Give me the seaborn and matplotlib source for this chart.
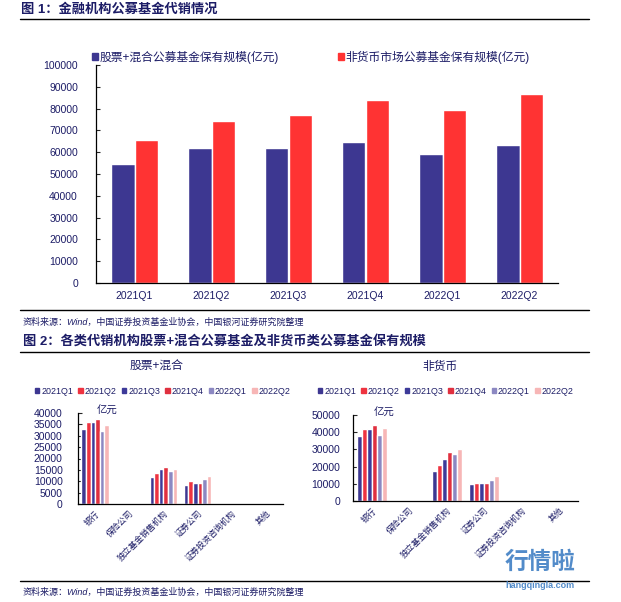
"""Fund distribution charts: holdings by quarter and by channel."""

import matplotlib
matplotlib.use('Agg')
import matplotlib.pyplot as plt
from matplotlib.patches import Patch
from matplotlib.ticker import FixedLocator, MultipleLocator
import numpy as np
import pandas as pd
import seaborn as sns

# ---- data (亿元) ----
quarters = ['2021Q1', '2021Q2', '2021Q3', '2021Q4', '2022Q1', '2022Q2']
series_top = ['股票+混合公募基金保有规模(亿元)', '非货币市场公募基金保有规模(亿元)']
equity_mixed = [54400, 61700, 61700, 64900, 59000, 63100]
non_money = [65800, 74500, 77200, 84000, 79500, 86800]

channels = ['银行', '保险公司', '独立基金销售机构', '证券公司', '证券投资咨询机构', '其他']
# 股票+混合, one list per quarter, values per channel
eq_2021q1 = [33100, 0, 12000, 8500, 0, 0]
eq_2021q2 = [36200, 0, 13800, 10300, 0, 0]
eq_2021q3 = [36200, 0, 15200, 9400, 0, 0]
eq_2021q4 = [37500, 0, 16400, 9400, 0, 0]
eq_2022q1 = [32200, 0, 14400, 11100, 0, 0]
eq_2022q2 = [34600, 0, 15500, 12500, 0, 0]
# 非货币
nm_2021q1 = [37700, 0, 17200, 9600, 0, 0]
nm_2021q2 = [41800, 0, 20700, 10700, 0, 0]
nm_2021q3 = [41800, 0, 24200, 10200, 0, 0]
nm_2021q4 = [44100, 0, 28300, 10200, 0, 0]
nm_2022q1 = [38300, 0, 27100, 12500, 0, 0]
nm_2022q2 = [42400, 0, 30100, 14300, 0, 0]

NAVY = '#1c1c66'
top_colors = ['#3d3791', '#ff3333']
q_colors = ['#3d3791', '#ee3340', '#3d3a99', '#e0303f', '#8c88c2', '#f7b6b6']

sns.set_style('white')
plt.rcParams['font.family'] = ['Liberation Sans', 'Noto Sans CJK SC', 'DejaVu Sans']
plt.rcParams['axes.unicode_minus'] = False

W, H = 621, 602
fig = plt.figure(figsize=(W / 100, H / 100), dpi=100)


def box(x0, y0, x1, y1):
    """Axes rectangle from pixel corners (top-left origin)."""
    return [x0 / W, 1 - y1 / H, (x1 - x0) / W, (y1 - y0) / H]


def fx(px):
    return px / W


def fy(py):
    return 1 - py / H


def style_axes(ax, ypad):
    for side in ['top', 'right']:
        ax.spines[side].set_visible(False)
    for side in ['left', 'bottom']:
        ax.spines[side].set_color('black')
        ax.spines[side].set_linewidth(0.9)
    n = len(ax.get_xticks())
    ax.xaxis.set_minor_locator(FixedLocator(np.arange(0.5, n - 0.5, 1.0)))
    ax.set_xlim(-0.5, n - 0.5)
    ax.tick_params(axis='x', which='major', length=0)
    ax.tick_params(axis='x', which='minor', length=3, width=0.8, direction='out')
    ax.tick_params(axis='y', length=3, width=0.8, direction='in', pad=ypad,
                   labelsize=7.5, labelcolor=NAVY, left=True)
    ax.set_xlabel('')
    ax.set_ylabel('')
    ax.grid(False)


# ---- figure 1 ----
fig.text(fx(21), fy(10), '图 1：金融机构公募基金代销情况', fontsize=9.5,
         fontweight='bold', color=NAVY, va='center')
fig.add_artist(plt.Line2D([fx(20), fx(589)], [fy(19), fy(19)], color='black', lw=1))

top_df = pd.DataFrame({
    'quarter': quarters * 2,
    'series': [series_top[0]] * 6 + [series_top[1]] * 6,
    'value': equity_mixed + non_money,
})
ax1 = fig.add_axes(box(96, 65, 558, 283))
sns.barplot(data=top_df, x='quarter', y='value', hue='series', palette=top_colors,
            width=0.6, gap=0, saturation=1, legend=False, ax=ax1)
ax1.set_ylim(0, 100000)
ax1.yaxis.set_major_locator(MultipleLocator(10000))
style_axes(ax1, ypad=13)
ax1.tick_params(axis='x', labelsize=7.5, labelcolor=NAVY, pad=6)

handles = [Patch(color=c, label=s) for c, s in zip(top_colors, series_top)]
fig.legend(handles=handles, loc='center left', bbox_to_anchor=(fx(92), fy(57)),
           ncol=2, frameon=False, fontsize=8.5, handlelength=0.5, handleheight=0.5,
           handletextpad=0.15, columnspacing=5.0, borderaxespad=0, borderpad=0,
           labelcolor=NAVY)

fig.add_artist(plt.Line2D([fx(20), fx(589)], [fy(310), fy(310)], color='black', lw=1))
fig.text(fx(23), fy(322), '资料来源：Wind，中国证券投资基金业协会，中国银河证券研究院整理',
         fontsize=6.5, color=NAVY, style='italic', va='center')

# ---- figure 2 ----
fig.text(fx(23), fy(341), '图 2：各类代销机构股票+混合公募基金及非货币类公募基金保有规模',
         fontsize=9.5, fontweight='bold', color=NAVY, va='center')
fig.add_artist(plt.Line2D([fx(20), fx(589)], [fy(352), fy(352)], color='black', lw=1))


def channel_df(rows):
    return pd.DataFrame({
        'channel': channels * len(quarters),
        'quarter': [q for q in quarters for _ in channels],
        'value': [v for r in rows for v in r],
    })


panels = [
    ('股票+混合', [eq_2021q1, eq_2021q2, eq_2021q3, eq_2021q4, eq_2022q1, eq_2022q2],
     box(78, 413, 283, 504), 40000, 5000, 11, 157, 35),
    ('非货币', [nm_2021q1, nm_2021q2, nm_2021q3, nm_2021q4, nm_2022q1, nm_2022q2],
     box(353, 415, 578, 501), 50000, 10000, 9, 440, 318),
]
for title, rows, rect, ymax, step, ypad, title_x, leg_x in panels:
    ax = fig.add_axes(rect)
    sns.barplot(data=channel_df(rows), x='channel', y='value', hue='quarter',
                palette=q_colors, width=0.8, gap=0, saturation=1, legend=False, ax=ax)
    ax.set_ylim(0, ymax)
    ax.yaxis.set_major_locator(MultipleLocator(step))
    style_axes(ax, ypad=ypad)
    ax.tick_params(axis='x', labelsize=6, labelcolor=NAVY, pad=4)
    for lab in ax.get_xticklabels():
        lab.set_rotation(45)
        lab.set_ha('right')
        lab.set_rotation_mode('anchor')
    ax.text(0.09, 1.02, '亿元', transform=ax.transAxes, fontsize=7.5, color=NAVY,
            va='center', ha='left')
    fig.text(fx(title_x), fy(367), title, fontsize=8.5, color=NAVY, ha='center', va='center')
    qh = [Patch(color=c, label=q) for c, q in zip(q_colors, quarters)]
    fig.legend(handles=qh, loc='center left', bbox_to_anchor=(fx(leg_x), fy(391)),
               ncol=6, frameon=False, fontsize=6.4, handlelength=0.5, handleheight=0.5,
               handletextpad=0.2, columnspacing=0.6, borderaxespad=0, borderpad=0,
               labelcolor=NAVY)

fig.add_artist(plt.Line2D([fx(20), fx(589)], [fy(581), fy(581)], color='black', lw=1))
fig.text(fx(23), fy(592), '资料来源：Wind，中国证券投资基金业协会，中国银河证券研究院整理',
         fontsize=6.5, color=NAVY, style='italic', va='center')

# watermark
fig.text(fx(540), fy(562), '行情啦', fontsize=17, fontweight='bold', color='#3f7fc4',
         ha='center', va='center', alpha=0.9)
fig.text(fx(540), fy(585), 'hangqingla.com', fontsize=6.5, fontweight='bold',
         color='#3f7fc4', ha='center', va='center', alpha=0.9)

fig.savefig('out.png', dpi=100)
plt.close(fig)
